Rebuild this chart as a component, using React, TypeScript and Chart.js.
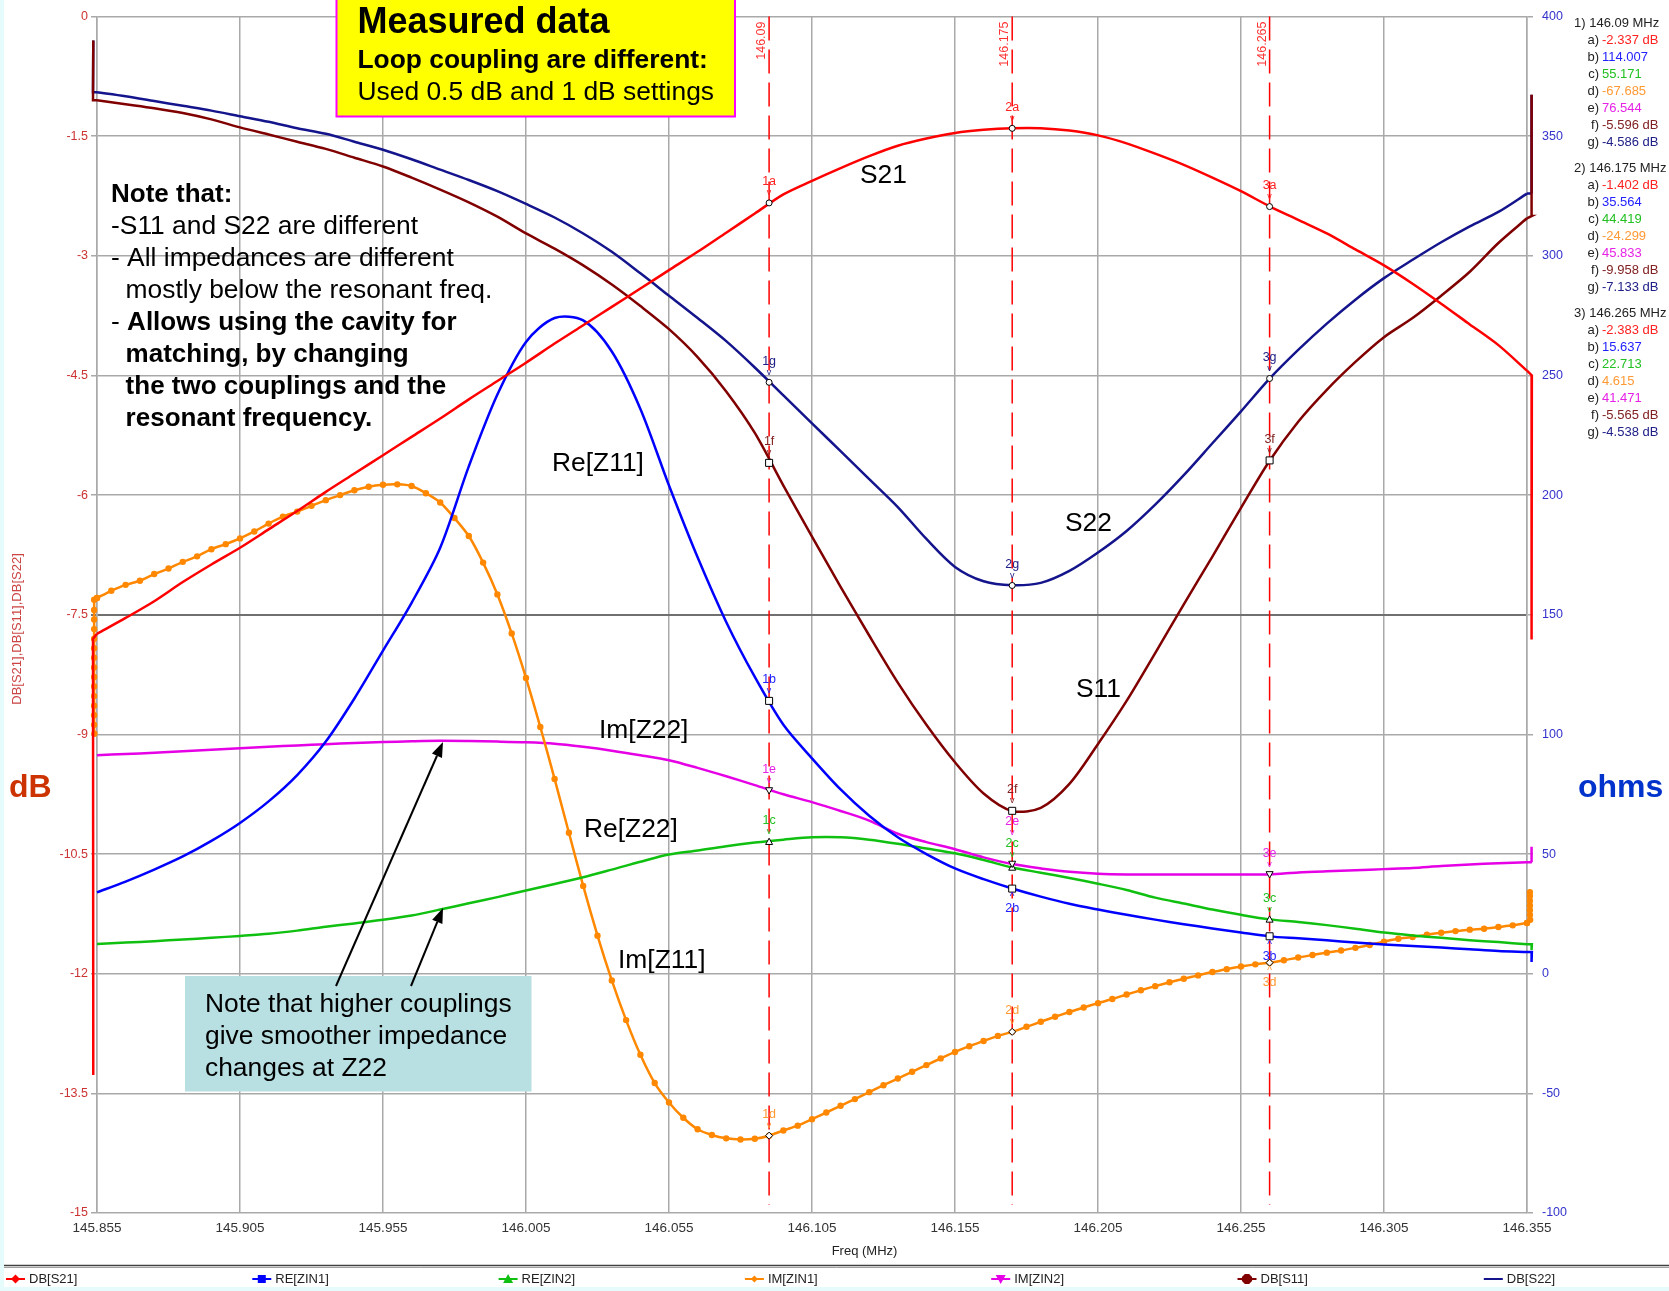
import React, { useEffect, useRef } from "react";
import { Chart, registerables } from "chart.js";
Chart.register(...registerables);

const FONT = '"Liberation Sans", Arial, Helvetica, sans-serif';

// ---------- axis ticks ----------
const freqTicks = [145.855, 145.905, 145.955, 146.005, 146.055, 146.105, 146.155, 146.205, 146.255, 146.305, 146.355];
const dbTicks = [0, -1.5, -3, -4.5, -6, -7.5, -9, -10.5, -12, -13.5, -15];
const ohmTicks = [400, 350, 300, 250, 200, 150, 100, 50, 0, -50, -100];

// ---------- frequency grids (MHz) ----------
const freqLine = [
  145.855, 145.865, 145.875, 145.885, 145.895, 145.905, 145.915, 145.925, 145.935, 145.945,
  145.955, 145.965, 145.975, 145.985, 145.995, 146.005, 146.015, 146.025, 146.035, 146.045,
  146.055, 146.065, 146.075, 146.085, 146.095, 146.105, 146.115, 146.125, 146.135, 146.145,
  146.155, 146.165, 146.175, 146.185, 146.195, 146.205, 146.215, 146.225, 146.235, 146.245,
  146.255, 146.265, 146.275, 146.285, 146.295, 146.305, 146.315, 146.325, 146.335, 146.345,
  146.355,
];
const freqDots = [
  145.855, 145.86, 145.865, 145.87, 145.875, 145.88, 145.885, 145.89, 145.895, 145.9,
  145.905, 145.91, 145.915, 145.92, 145.925, 145.93, 145.935, 145.94, 145.945, 145.95,
  145.955, 145.96, 145.965, 145.97, 145.975, 145.98, 145.985, 145.99, 145.995, 146.0,
  146.005, 146.01, 146.015, 146.02, 146.025, 146.03, 146.035, 146.04, 146.045, 146.05,
  146.055, 146.06, 146.065, 146.07, 146.075, 146.08, 146.085, 146.09, 146.095, 146.1,
  146.105, 146.11, 146.115, 146.12, 146.125, 146.13, 146.135, 146.14, 146.145, 146.15,
  146.155, 146.16, 146.165, 146.17, 146.175, 146.18, 146.185, 146.19, 146.195, 146.2,
  146.205, 146.21, 146.215, 146.22, 146.225, 146.23, 146.235, 146.24, 146.245, 146.25,
  146.255, 146.26, 146.265, 146.27, 146.275, 146.28, 146.285, 146.29, 146.295, 146.3,
  146.305, 146.31, 146.315, 146.32, 146.325, 146.33, 146.335, 146.34, 146.345, 146.35,
  146.355,
];
// the sweep end points sit just outside the axis range
const edgeFreqLeft = [145.8537, 145.8536];
const edgeFreqRight = [146.3567, 146.3566];
const edgeDotFreqLeft = [145.8541, 145.854];
const edgeDotFreqRight = [146.3561, 146.356];

// ---------- series (dB) ----------
const dbS21 = [
  -7.74, -7.54, -7.33, -7.09, -6.87, -6.66, -6.43, -6.2, -5.96, -5.73,
  -5.5, -5.27, -5.04, -4.8, -4.57, -4.34, -4.1, -3.87, -3.64, -3.41,
  -3.18, -2.95, -2.71, -2.47, -2.23, -2.06, -1.9, -1.75, -1.62, -1.53,
  -1.46, -1.42, -1.4, -1.4, -1.43, -1.49, -1.59, -1.72, -1.86, -2.02,
  -2.19, -2.38, -2.55, -2.72, -2.92, -3.12, -3.35, -3.6, -3.86, -4.12,
  -4.44,
];
const dbS11 = [
  -1.05, -1.1, -1.15, -1.21, -1.29, -1.39, -1.48, -1.57, -1.66, -1.77,
  -1.88, -2.02, -2.17, -2.33, -2.51, -2.72, -2.91, -3.12, -3.36, -3.63,
  -3.92, -4.27, -4.7, -5.22, -5.88, -6.52, -7.15, -7.76, -8.35, -8.88,
  -9.35, -9.74, -9.96, -9.92, -9.62, -9.12, -8.58, -7.98, -7.37, -6.77,
  -6.16, -5.57, -5.08, -4.68, -4.33, -4.02, -3.78, -3.5, -3.2, -2.84,
  -2.53,
];
const dbS22 = [
  -0.95, -1.0, -1.06, -1.12, -1.18, -1.25, -1.32, -1.4, -1.47, -1.57,
  -1.67, -1.79, -1.92, -2.05, -2.19, -2.35, -2.52, -2.72, -2.95, -3.22,
  -3.5, -3.78, -4.07, -4.4, -4.75, -5.1, -5.45, -5.8, -6.15, -6.55,
  -6.9, -7.08, -7.13, -7.1, -6.95, -6.72, -6.45, -6.12, -5.75, -5.35,
  -4.95, -4.54, -4.18, -3.85, -3.55, -3.28, -3.05, -2.83, -2.63, -2.45,
  -2.22,
];

// ---------- series (ohms) ----------
const reZ11 = [
  34, 38.5, 43.5, 49, 55.5, 63, 72, 83, 97, 115,
  135, 155, 178, 212, 242, 264, 274, 273, 260, 236,
  204, 174, 147, 124, 104, 90, 77, 66, 57, 50,
  44, 39.5, 35.6, 32.2, 29.2, 26.8, 24.6, 22.6, 20.7, 18.9,
  17.2, 15.6, 14.8, 14.0, 13.0, 12.2, 11.6, 10.9, 10.2, 9.5,
  9.1,
];
const reZ22 = [
  12.4, 13.0, 13.6, 14.3, 15.0, 15.8, 16.7, 18.0, 19.6, 21.0,
  22.5, 24.3, 26.8, 29.4, 32.0, 34.8, 37.5, 40.3, 43.5, 46.8,
  49.8, 51.5, 53.3, 54.8, 56.0, 57.0, 57.0, 56.0, 54.3, 52.3,
  50.3, 47.5, 44.4, 42.2, 40.0, 37.6, 35.0, 31.8, 29.3, 26.8,
  24.6, 22.7, 21.6, 20.3, 18.8, 17.2, 16.0, 15.0, 14.0, 13.2,
  12.3,
];
const imZ22 = [
  91.3, 91.8, 92.3, 93.0, 93.6, 94.2, 94.8, 95.4, 95.9, 96.4,
  96.8, 97.1, 97.3, 97.2, 97.0, 96.7, 96.1, 94.8, 93.2, 91.3,
  89.2, 86.0, 82.5, 78.8, 75.0, 71.7, 68.0, 64.0, 58.5, 55.0,
  52.0, 48.6, 45.8, 44.0, 42.6, 41.8, 41.5, 41.5, 41.5, 41.5,
  41.5, 41.5, 42.3, 42.8, 43.2, 43.7, 44.2, 45.0, 45.6, 46.2,
  46.6,
];
const imZ11 = [
  157, 160.0, 162.5, 164.2, 167.0, 169.3, 172.1, 174.4, 177.4, 179.5,
  181.9, 184.8, 188.1, 191.0, 193.1, 195.5, 197.9, 200.0, 202.0, 203.5,
  204.3, 204.5, 203.8, 200.8, 196.9, 190.4, 182.9, 171.8, 158.5, 142.2,
  123.6, 103.1, 81.4, 58.9, 36.7, 15.9, -2.8, -19.4, -33.9, -45.7,
  -53.8, -60.2, -65.0, -67.4, -68.8, -69.3, -69.0, -67.7, -65.5, -63.5,
  -60.8, -58.0, -55.2, -52.4, -49.5, -46.6, -43.8, -41.0, -38.2, -35.4,
  -32.7, -30.3, -28.1, -26.0, -24.3, -22.2, -20.1, -18.0, -16.0, -14.1,
  -12.3, -10.6, -8.7, -6.9, -5.2, -3.6, -2.1, -0.7, 0.7, 1.9,
  3.0, 3.9, 4.6, 5.6, 6.8, 7.8, 8.8, 9.7, 10.8, 12.0,
  13.4, 14.6, 15.3, 16.3, 17.1, 17.8, 18.4, 18.8, 19.5, 20.2,
  21.2,
];

// ---------- sweep edge artefacts (values at the sweep ends) ----------
const s21EdgeLeft = [-13.27, -7.8];
const s21EdgeRight = [-4.5, -7.81];
const s11EdgeLeft = [-0.3, -1.05];
const s11EdgeRight = [-2.5, -0.98];
const s22EdgeLeft = [-0.3, -0.95];
const s22EdgeRight = [-2.22, -0.98];
const reZ11EdgeRight = [9.1, 4.9];
const reZ22EdgeRight = [12.3, 9.9];
const imZ22EdgeRight = [46.6, 53.1];
const imZ11EdgeLeft = [100.3, 104, 108, 112, 116, 120, 124, 128, 132, 136, 140, 144, 148, 152, 156.3];
const imZ11EdgeRight = [22.5, 24.5, 26.5, 28.5, 30.5, 32.5, 34.1];

// ---------- markers ----------
const markerFreqs = [146.09, 146.175, 146.265];
const markerS21 = [-2.337, -1.402, -2.383];
const markerReZ11 = [114.007, 35.564, 15.637];
const markerReZ22 = [55.171, 44.419, 22.713];
const markerImZ11 = [-67.685, -24.299, 4.615];
const markerImZ22 = [76.544, 45.833, 41.471];
const markerS11 = [-5.596, -9.958, -5.565];
const markerS22 = [-4.586, -7.133, -4.538];

const legendLabels = ["DB[S21]", "RE[ZIN1]", "RE[ZIN2]", "IM[ZIN1]", "IM[ZIN2]", "DB[S11]", "DB[S22]"];

const COL = {
  s21: "#ff0000",
  reZ11: "#0000ff",
  reZ22: "#10c010",
  imZ11: "#ff8800",
  imZ22: "#e600e6",
  s11: "#800000",
  s22: "#14148c",
};

const pts = (xs: number[], ys: number[]) => xs.map((x, i) => ({ x, y: ys[i] }));
// edge values: first one at fs[0], the rest at fs[1] (keeps the vertical run)
const edge = (fs: number[], ys: number[]) => ys.map((y, i) => ({ x: i === 0 ? fs[0] : fs[1], y }));
const first = (xs: number[], ys: number[]) => ({ x: xs[0], y: ys[0] });
const last = (xs: number[], ys: number[]) => ({ x: xs[xs.length - 1], y: ys[ys.length - 1] });

type MarkerTrace = {
  key: string;
  values: number[];
  axis: "y" | "y1";
  color: string;
  textColor: string;
  shape: string;
  unit: string;
};
const markerTraces: MarkerTrace[] = [
  { key: "a", values: markerS21, axis: "y", color: COL.s21, textColor: "#ff2020", shape: "circle", unit: " dB" },
  { key: "b", values: markerReZ11, axis: "y1", color: COL.reZ11, textColor: "#2222ff", shape: "square", unit: "" },
  { key: "c", values: markerReZ22, axis: "y1", color: COL.reZ22, textColor: "#22c022", shape: "tri", unit: "" },
  { key: "d", values: markerImZ11, axis: "y1", color: COL.imZ11, textColor: "#ff9933", shape: "diamond", unit: "" },
  { key: "e", values: markerImZ22, axis: "y1", color: COL.imZ22, textColor: "#e622e6", shape: "tridown", unit: "" },
  { key: "f", values: markerS11, axis: "y", color: COL.s11, textColor: "#802020", shape: "square", unit: " dB" },
  { key: "g", values: markerS22, axis: "y", color: COL.s22, textColor: "#202088", shape: "circle", unit: " dB" },
];

function text(ctx: CanvasRenderingContext2D, s: string, x: number, y: number, font: string, color: string, align: CanvasTextAlign = "left", baseline: CanvasTextBaseline = "alphabetic") {
  ctx.font = font;
  ctx.fillStyle = color;
  ctx.textAlign = align;
  ctx.textBaseline = baseline;
  ctx.fillText(s, x, y);
}

function symbol(ctx: CanvasRenderingContext2D, shape: string, x: number, y: number, s: number, fill: string, stroke: string) {
  ctx.beginPath();
  if (shape === "circle") ctx.arc(x, y, s, 0, Math.PI * 2);
  else if (shape === "square") ctx.rect(x - s, y - s, 2 * s, 2 * s);
  else if (shape === "tri") {
    ctx.moveTo(x, y - s);
    ctx.lineTo(x + s, y + s * 0.8);
    ctx.lineTo(x - s, y + s * 0.8);
    ctx.closePath();
  } else if (shape === "tridown") {
    ctx.moveTo(x, y + s);
    ctx.lineTo(x + s, y - s * 0.8);
    ctx.lineTo(x - s, y - s * 0.8);
    ctx.closePath();
  } else if (shape === "diamond") {
    ctx.moveTo(x, y - s);
    ctx.lineTo(x + s, y);
    ctx.lineTo(x, y + s);
    ctx.lineTo(x - s, y);
    ctx.closePath();
  } else if (shape === "octagon") {
    for (let i = 0; i < 8; i++) {
      const a = Math.PI / 8 + (i * Math.PI) / 4;
      const px = x + s * Math.cos(a);
      const py = y + s * Math.sin(a);
      if (i === 0) ctx.moveTo(px, py);
      else ctx.lineTo(px, py);
    }
    ctx.closePath();
  }
  ctx.fillStyle = fill;
  ctx.fill();
  if (stroke) {
    ctx.lineWidth = 1;
    ctx.strokeStyle = stroke;
    ctx.stroke();
  }
}

function arrow(ctx: CanvasRenderingContext2D, x1: number, y1: number, x2: number, y2: number) {
  const ang = Math.atan2(y2 - y1, x2 - x1);
  const L = 15, W = 5.5;
  const bx = x2 - L * Math.cos(ang), by = y2 - L * Math.sin(ang);
  ctx.strokeStyle = "#000";
  ctx.lineWidth = 2;
  ctx.beginPath();
  ctx.moveTo(x1, y1);
  ctx.lineTo(bx, by);
  ctx.stroke();
  ctx.beginPath();
  ctx.moveTo(x2, y2);
  ctx.lineTo(bx + W * Math.sin(ang), by - W * Math.cos(ang));
  ctx.lineTo(bx - W * Math.sin(ang), by + W * Math.cos(ang));
  ctx.closePath();
  ctx.fillStyle = "#000";
  ctx.fill();
}

const REG = `26.4px ${FONT}`;
const BOLD = `bold 26px ${FONT}`;

const overlayPlugin = {
  id: "overlay",
  beforeDraw(chart: any) {
    const ctx: CanvasRenderingContext2D = chart.ctx;
    const W = chart.width, H = chart.height;
    ctx.save();
    ctx.fillStyle = "#ffffff";
    ctx.fillRect(0, 0, W, H);
    ctx.fillStyle = "#e6fcfc";
    ctx.fillRect(0, 0, 4, H);
    ctx.fillRect(0, H - 4, W, 4);
    ctx.restore();
  },
  beforeDatasetsDraw(chart: any) {
    const ctx: CanvasRenderingContext2D = chart.ctx;
    const { x } = chart.scales;
    const area = chart.chartArea;
    ctx.save();
    markerFreqs.forEach((f) => {
      const px = x.getPixelForValue(f);
      ctx.strokeStyle = "#ff0000";
      ctx.lineWidth = 1.5;
      ctx.setLineDash([24, 9]);
      ctx.beginPath();
      ctx.moveTo(px, area.top);
      ctx.lineTo(px, area.bottom - 8);
      ctx.stroke();
      ctx.setLineDash([]);
      ctx.save();
      ctx.translate(px - 7.5, area.top + 5);
      ctx.rotate(-Math.PI / 2);
      text(ctx, String(f), 0, 0, `12.5px ${FONT}`, "#ff3030", "right", "middle");
      ctx.restore();
    });
    ctx.restore();
  },
  afterDatasetsDraw(chart: any) {
    const ctx: CanvasRenderingContext2D = chart.ctx;
    const { x } = chart.scales;
    ctx.save();
    markerFreqs.forEach((f, i) => {
      const px = x.getPixelForValue(f);
      markerTraces.forEach((t) => {
        const py = chart.scales[t.axis].getPixelForValue(t.values[i]);
        const id = `${i + 1}${t.key}`;
        symbol(ctx, t.shape, px, py, t.shape === "circle" ? 3 : 3.5, "#ffffff", "#000000");
        const below = id === "2b" || id === "3b" || id === "3d";
        let labelDy = -21, caretDy = -10;
        if (id === "2e") { labelDy = -42; caretDy = -32; }
        if (id === "2c") { labelDy = -24; caretDy = -13; }
        if (below) {
          text(ctx, "^", px, py + 9, `10px ${FONT}`, t.textColor, "center", "middle");
          text(ctx, id, px, py + 20, `12.5px ${FONT}`, t.textColor, "center", "middle");
        } else {
          text(ctx, "v", px, py + caretDy, `9px ${FONT}`, t.textColor, "center", "middle");
          text(ctx, id, px, py + labelDy, `12.5px ${FONT}`, t.textColor, "center", "middle");
        }
      });
    });
    ctx.restore();
  },
  afterDraw(chart: any) {
    const ctx: CanvasRenderingContext2D = chart.ctx;
    const W = chart.width;
    ctx.save();

    // Yellow title box
    ctx.fillStyle = "#ffff00";
    ctx.fillRect(336.5, -5, 398.5, 121.5);
    ctx.strokeStyle = "#ff00ff";
    ctx.lineWidth = 2;
    ctx.strokeRect(336.5, -5, 398.5, 121.5);
    text(ctx, "Measured data", 357.5, 33, `bold 36px ${FONT}`, "#000");
    text(ctx, "Loop coupling are different:", 357.5, 68, `bold 26.4px ${FONT}`, "#000");
    text(ctx, "Used 0.5 dB and 1 dB settings", 357.5, 100, REG, "#000");

    // Note block
    text(ctx, "Note that:", 111, 202, BOLD, "#000");
    text(ctx, "-S11 and S22 are different", 111, 234, REG, "#000");
    text(ctx, "- All impedances are different", 111, 266, REG, "#000");
    text(ctx, "mostly below the resonant freq.", 125.6, 298, REG, "#000");
    ctx.font = REG;
    const dashW = ctx.measureText("- ").width;
    text(ctx, "- ", 111, 330, REG, "#000");
    text(ctx, "Allows using the cavity for", 111 + dashW, 330, BOLD, "#000");
    text(ctx, "matching, by changing", 125.6, 362, BOLD, "#000");
    text(ctx, "the two couplings and the", 125.6, 394, BOLD, "#000");
    text(ctx, "resonant frequency.", 125.6, 426, BOLD, "#000");

    // Teal box
    ctx.fillStyle = "#b8dfe2";
    ctx.fillRect(185, 976, 346.5, 115.5);
    text(ctx, "Note that higher couplings", 205, 1012, REG, "#000");
    text(ctx, "give smoother impedance", 205, 1044, REG, "#000");
    text(ctx, "changes at Z22", 205, 1076, REG, "#000");
    arrow(ctx, 336, 986, 443, 742);
    arrow(ctx, 411, 986, 443, 908);

    // Curve labels
    const lf = REG;
    text(ctx, "S21", 860, 176, lf, "#000", "left", "middle");
    text(ctx, "S22", 1065, 524, lf, "#000", "left", "middle");
    text(ctx, "S11", 1076, 690, lf, "#000", "left", "middle");
    text(ctx, "Re[Z11]", 552, 464, lf, "#000", "left", "middle");
    text(ctx, "Im[Z22]", 599, 731, lf, "#000", "left", "middle");
    text(ctx, "Re[Z22]", 584, 830, lf, "#000", "left", "middle");
    text(ctx, "Im[Z11]", 618, 961, lf, "#000", "left", "middle");

    // Unit labels
    text(ctx, "dB", 9, 797, `bold 32px ${FONT}`, "#cc3300");
    text(ctx, "ohms", 1578, 797, `bold 32px ${FONT}`, "#0033cc");

    // Axis titles
    ctx.save();
    ctx.translate(17, 629);
    ctx.rotate(-Math.PI / 2);
    text(ctx, "DB[S21],DB[S11],DB[S22]", 0, 0, `13px ${FONT}`, "#cc4444", "center", "middle");
    ctx.restore();
    text(ctx, "Freq (MHz)", 864.5, 1251, `13px ${FONT}`, "#222", "center", "middle");

    // Marker readouts
    markerFreqs.forEach((f, i) => {
      const y0 = 23.5 + i * 145;
      text(ctx, `${i + 1}) ${f} MHz`, 1574, y0, `13px ${FONT}`, "#222", "left", "middle");
      markerTraces.forEach((t, j) => {
        const y = y0 + 17 * (j + 1);
        text(ctx, `${t.key})`, 1599, y, `13px ${FONT}`, "#222", "right", "middle");
        text(ctx, `${t.values[i].toFixed(3)}${t.unit}`, 1602, y, `13px ${FONT}`, t.textColor, "left", "middle");
      });
    });

    // Legend
    ctx.strokeStyle = "#404040";
    ctx.lineWidth = 1.5;
    ctx.beginPath();
    ctx.moveTo(4, 1265.5);
    ctx.lineTo(W, 1265.5);
    ctx.stroke();
    ctx.strokeStyle = "#a0a0a0";
    ctx.lineWidth = 1;
    ctx.beginPath();
    ctx.moveTo(4, 1267.5);
    ctx.lineTo(W, 1267.5);
    ctx.stroke();
    const shapes = ["diamond", "square", "tri", "diamond", "tridown", "octagon", ""];
    const sizes = [4.5, 4, 5, 3.5, 5, 5.5, 0];
    chart.data.datasets.slice(0, legendLabels.length).forEach((ds: any, i: number) => {
      const tx = 29 + i * 246.3;
      const ly = 1279;
      ctx.strokeStyle = ds.borderColor;
      ctx.lineWidth = 2;
      ctx.beginPath();
      ctx.moveTo(tx - 23, ly);
      ctx.lineTo(tx - 4, ly);
      ctx.stroke();
      if (shapes[i]) symbol(ctx, shapes[i], tx - 13.5, ly, sizes[i], ds.borderColor, "");
      text(ctx, legendLabels[i], tx, ly, `13px ${FONT}`, "#222", "left", "middle");
    });

    ctx.restore();
  },
};

export default function App() {
  const ref = useRef<HTMLCanvasElement | null>(null);
  useEffect(() => {
    document.body.style.margin = "0";
    const canvas = ref.current;
    if (!canvas) return;
    const clip = { left: 10, right: 10, top: 2, bottom: 2 };
    const lineDs = (label: string, color: string, axis: string, data: any[], extra: any = {}) => ({
      label,
      data,
      borderColor: color,
      backgroundColor: color,
      yAxisID: axis,
      borderWidth: 2.5,
      pointRadius: 0,
      tension: 0.3,
      fill: false,
      clip,
      ...extra,
    });
    // straight sweep-end segments (no smoothing)
    const edgeDs = (label: string, color: string, axis: string, data: any[], extra: any = {}) =>
      lineDs(label, color, axis, data, { tension: 0, ...extra });
    const dotOpts = { pointRadius: 3.2, pointBorderWidth: 0, pointBackgroundColor: COL.imZ11, pointStyle: "circle" };
    const gridGray = "#a9a9a9";
    const chart = new Chart(canvas, {
      type: "line",
      data: {
        datasets: [
          lineDs(legendLabels[0], COL.s21, "y", pts(freqLine, dbS21)),
          lineDs(legendLabels[1], COL.reZ11, "y1", pts(freqLine, reZ11)),
          lineDs(legendLabels[2], COL.reZ22, "y1", pts(freqLine, reZ22)),
          lineDs(legendLabels[3], COL.imZ11, "y1", pts(freqDots, imZ11), { ...dotOpts, tension: 0.2 }),
          lineDs(legendLabels[4], COL.imZ22, "y1", pts(freqLine, imZ22)),
          lineDs(legendLabels[5], COL.s11, "y", pts(freqLine, dbS11)),
          lineDs(legendLabels[6], COL.s22, "y", pts(freqLine, dbS22)),
          // sweep-end artefacts
          edgeDs("DB[S21] start", COL.s21, "y", [...edge(edgeFreqLeft, s21EdgeLeft), first(freqLine, dbS21)]),
          edgeDs("DB[S21] end", COL.s21, "y", [last(freqLine, dbS21), ...edge(edgeFreqRight, s21EdgeRight)]),
          edgeDs("RE[ZIN1] end", COL.reZ11, "y1", [last(freqLine, reZ11), ...edge(edgeFreqRight, reZ11EdgeRight)]),
          edgeDs("RE[ZIN2] end", COL.reZ22, "y1", [last(freqLine, reZ22), ...edge(edgeFreqRight, reZ22EdgeRight)]),
          edgeDs("IM[ZIN1] start", COL.imZ11, "y1", [...edge(edgeDotFreqLeft, imZ11EdgeLeft), first(freqDots, imZ11)], dotOpts),
          edgeDs("IM[ZIN1] end", COL.imZ11, "y1", [last(freqDots, imZ11), ...edge(edgeDotFreqRight, imZ11EdgeRight)], dotOpts),
          edgeDs("IM[ZIN2] end", COL.imZ22, "y1", [last(freqLine, imZ22), ...edge(edgeFreqRight, imZ22EdgeRight)]),
          edgeDs("DB[S11] start", COL.s11, "y", [...edge(edgeFreqLeft, s11EdgeLeft), first(freqLine, dbS11)]),
          edgeDs("DB[S11] end", COL.s11, "y", [last(freqLine, dbS11), ...edge(edgeFreqRight, s11EdgeRight)]),
          edgeDs("DB[S22] start", COL.s22, "y", [...edge(edgeFreqLeft, s22EdgeLeft), first(freqLine, dbS22)]),
          edgeDs("DB[S22] end", COL.s22, "y", [last(freqLine, dbS22), ...edge(edgeFreqRight, s22EdgeRight)]),
        ],
      },
      options: {
        responsive: false,
        animation: false,
        devicePixelRatio: 1,
        layout: { padding: { top: 15, left: 0, right: 0, bottom: 0 } },
        plugins: { legend: { display: false }, tooltip: { enabled: false } },
        scales: {
          x: {
            type: "linear",
            min: 145.855,
            max: 146.355,
            afterFit: (s: any) => { s.height = 78; },
            afterBuildTicks: (s: any) => { s.ticks = freqTicks.map((v) => ({ value: v })); },
            ticks: {
              autoSkip: false,
              maxRotation: 0,
              padding: 7,
              color: "#333",
              font: { family: FONT, size: 13.5 },
              callback: (v: any) => Number(v).toFixed(3),
            },
            grid: { color: gridGray, lineWidth: 1.5, drawTicks: false },
            border: { display: false },
          },
          y: {
            position: "left",
            min: -15,
            max: 0,
            afterFit: (s: any) => { s.width = 97; },
            afterBuildTicks: (s: any) => { s.ticks = dbTicks.map((v) => ({ value: v })); },
            ticks: {
              padding: 3,
              color: "#cc3333",
              font: { family: FONT, size: 12.5 },
              callback: (v: any) => String(v),
            },
            grid: {
              color: (c: any) => (c.tick && c.tick.value === -7.5 ? "#707070" : gridGray),
              lineWidth: (c: any) => (c.tick && c.tick.value === -7.5 ? 2 : 1.5),
              tickLength: 6,
            },
            border: { display: true, color: gridGray, width: 1.5 },
          },
          y1: {
            position: "right",
            min: -100,
            max: 400,
            afterFit: (s: any) => { s.width = 142; },
            afterBuildTicks: (s: any) => { s.ticks = ohmTicks.map((v) => ({ value: v })); },
            ticks: {
              padding: 9,
              color: "#3333cc",
              font: { family: FONT, size: 12.5 },
              callback: (v: any) => String(v),
            },
            grid: { drawOnChartArea: false, color: gridGray, lineWidth: 1.5, tickLength: 6 },
            border: { display: true, color: gridGray, width: 1.5 },
          },
        },
      } as any,
      plugins: [overlayPlugin],
    });
    return () => chart.destroy();
  }, []);
  return (
    <div style={{ width: 1669, height: 1291, position: "relative", overflow: "hidden" }}>
      <canvas ref={ref} width={1669} height={1291} style={{ display: "block", width: 1669, height: 1291 }} />
    </div>
  );
}
